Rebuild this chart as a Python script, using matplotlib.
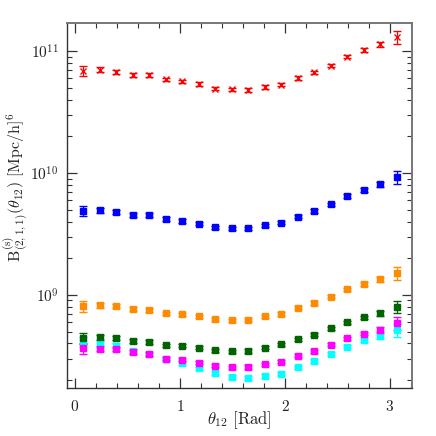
import matplotlib
matplotlib.use("Agg")
import matplotlib.pyplot as plt
from matplotlib.ticker import MultipleLocator, LogLocator, NullFormatter
import numpy as np

plt.rcParams['font.family'] = 'serif'
plt.rcParams['font.serif'] = ['cmr10', 'DejaVu Serif']
plt.rcParams['mathtext.fontset'] = 'cm'
plt.rcParams['axes.formatter.use_mathtext'] = True
plt.rcParams['axes.unicode_minus'] = False

# bin centres of theta_12 [rad]
theta = [0.079, 0.236, 0.393, 0.550, 0.707, 0.864, 1.021, 1.178, 1.335, 1.492,
         1.649, 1.806, 1.963, 2.121, 2.278, 2.435, 2.592, 2.749, 2.906, 3.063]

b_red = [6.93e10, 7.06e10, 6.80e10, 6.34e10, 6.38e10, 5.87e10, 5.65e10, 5.38e10, 4.94e10, 4.85e10,
         4.80e10, 5.08e10, 5.31e10, 6.03e10, 6.70e10, 7.62e10, 9.04e10, 1.02e11, 1.14e11, 1.31e11]
b_blue = [4.89e9, 4.94e9, 4.76e9, 4.50e9, 4.50e9, 4.20e9, 4.04e9, 3.84e9, 3.58e9, 3.51e9,
          3.51e9, 3.72e9, 3.91e9, 4.39e9, 4.89e9, 5.54e9, 6.46e9, 7.24e9, 8.07e9, 9.21e9]
b_orange = [8.11e8, 8.22e8, 8.07e8, 7.62e8, 7.57e8, 7.06e8, 6.92e8, 6.67e8, 6.30e8, 6.21e8,
            6.26e8, 6.67e8, 6.97e8, 7.87e8, 8.59e8, 9.70e8, 1.11e9, 1.23e9, 1.34e9, 1.51e9]
b_green = [4.41e8, 4.47e8, 4.41e8, 4.20e8, 4.12e8, 3.86e8, 3.82e8, 3.68e8, 3.51e8, 3.44e8,
           3.47e8, 3.70e8, 3.92e8, 4.33e8, 4.73e8, 5.31e8, 5.95e8, 6.54e8, 7.06e8, 8.02e8]
b_magenta = [3.65e8, 3.63e8, 3.58e8, 3.41e8, 3.28e8, 3.00e8, 2.94e8, 2.78e8, 2.62e8, 2.54e8,
             2.56e8, 2.69e8, 2.83e8, 3.16e8, 3.44e8, 3.89e8, 4.39e8, 4.82e8, 5.18e8, 5.83e8]
b_cyan = [4.12e8, 3.94e8, 3.84e8, 3.47e8, 3.25e8, 2.96e8, 2.76e8, 2.49e8, 2.29e8, 2.12e8,
          2.08e8, 2.16e8, 2.26e8, 2.54e8, 2.87e8, 3.30e8, 3.77e8, 4.25e8, 4.58e8, 5.11e8]

# fractional errors per bin
rel_err = [0.10, 0.05, 0.04, 0.035, 0.035, 0.03, 0.03, 0.03, 0.03, 0.03,
           0.03, 0.03, 0.03, 0.03, 0.03, 0.03, 0.035, 0.035, 0.045, 0.12]

series = [(b_cyan, '#00ffff', 's'),
          (b_magenta, '#ff00ff', 's'),
          (b_green, '#006400', 's'),
          (b_orange, '#ff8c00', 's'),
          (b_blue, '#0000ff', 's'),
          (b_red, '#ff0000', 'x')]

fig = plt.figure(figsize=(4.36, 4.36), dpi=100)
ax = fig.add_axes([0.1537, 0.110, 0.7913, 0.837])

for vals, col, mk in series:
    v = np.array(vals)
    err = v * np.array(rel_err)
    ax.errorbar(theta, v, yerr=err, fmt=mk, color=col, ms=3.8 if mk == 's' else 4.2,
                mew=1.0, elinewidth=0.9, capsize=2.8, capthick=1.0, ecolor=col)

ax.set_yscale('log')
ax.set_xlim(-0.076, 3.21)
ax.set_ylim(1.72e8, 1.70e11)

ax.xaxis.set_major_locator(MultipleLocator(1))
ax.xaxis.set_minor_locator(MultipleLocator(0.2))
ax.yaxis.set_major_locator(LogLocator(base=10))
ax.yaxis.set_minor_locator(LogLocator(base=10, subs=np.arange(2, 10)))
ax.yaxis.set_minor_formatter(NullFormatter())

ax.tick_params(which='both', direction='in', top=True, right=True, color='#333333', labelcolor='#222222')
ax.tick_params(which='major', length=7.2, width=0.9, labelsize=11)
ax.tick_params(which='minor', length=3.6, width=0.8)
ax.tick_params(axis='x', which='major', pad=8)
ax.tick_params(axis='y', which='major', pad=6)

for s in ['left', 'bottom']:
    ax.spines[s].set_color('#333333')
    ax.spines[s].set_linewidth(1.0)
for s in ['top', 'right']:
    ax.spines[s].set_color('#777777')
    ax.spines[s].set_linewidth(1.4)

ax.set_xlabel(r'$\theta_{12}\ [\mathrm{Rad}]$', fontsize=12, color='#222222')
ax.set_ylabel(r'$\mathrm{B}^{(\mathrm{s})}_{(2,1,1)}(\theta_{12})\ [\mathrm{Mpc/h}]^6$', fontsize=11.5, color='#222222')
ax.yaxis.set_label_coords(-0.104, 0.549)
ax.xaxis.set_label_coords(0.5, -0.058)

fig.savefig('out.png', dpi=100)
